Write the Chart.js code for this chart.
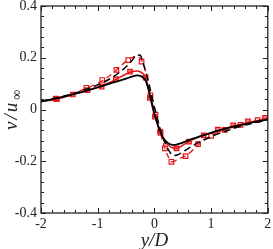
<!DOCTYPE html>
<html>
<head>
<meta charset="utf-8">
<script src="https://cdn.jsdelivr.net/npm/chart.js@4.4.1/dist/chart.umd.min.js"></script>
<style>
  html, body { margin: 0; padding: 0; background: #fff; }
  #chart { display: block; }
</style>
</head>
<body>
<canvas id="chart" width="273" height="249"></canvas>
<script>
// y/D stations shared by the four profiles
const yD = [-2, -1.75, -1.5, -1.25, -1, -0.75, -0.5, -0.4, -0.3, -0.25, -0.2, -0.15, -0.1, -0.05, 0,
  0.05, 0.1, 0.15, 0.2, 0.25, 0.3, 0.35, 0.4, 0.5, 0.6, 0.8, 1, 1.25, 1.5, 1.75, 2];

const blackSolid = [0.030, 0.042, 0.055, 0.069, 0.085, 0.103, 0.119, 0.127, 0.132, 0.130, 0.124, 0.110, 0.075, 0.030, -0.015,
  -0.053, -0.084, -0.107, -0.122, -0.131, -0.136, -0.137, -0.135, -0.128, -0.119, -0.104, -0.090, -0.074, -0.061, -0.049, -0.038];
const blackDashed = [0.032, 0.044, 0.057, 0.074, 0.095, 0.123, 0.165, 0.188, 0.211, 0.210, 0.180, 0.145, 0.103, 0.056, 0.010,
  -0.032, -0.075, -0.108, -0.135, -0.157, -0.172, -0.178, -0.176, -0.164, -0.150, -0.125, -0.105, -0.084, -0.066, -0.052, -0.040];
const redSolid = [0.031, 0.039, 0.054, 0.070, 0.087, 0.108, 0.137, 0.146, 0.149, 0.146, 0.138, 0.122, 0.072, 0.022, -0.020,
  -0.055, -0.085, -0.110, -0.128, -0.139, -0.146, -0.149, -0.149, -0.138, -0.125, -0.105, -0.090, -0.073, -0.058, -0.046, -0.034];
const redDashed = [0.032, 0.042, 0.057, 0.078, 0.101, 0.137, 0.186, 0.200, 0.206, 0.196, 0.178, 0.140, 0.087, 0.035, -0.013,
  -0.050, -0.088, -0.125, -0.160, -0.185, -0.202, -0.200, -0.194, -0.184, -0.172, -0.131, -0.102, -0.079, -0.060, -0.046, -0.034];

// symbols (filled squares on red solid, open squares on red dashed)
const filledX = [-1.72, -1.44, -1.18, -0.93, -0.68, -0.43, -0.155, -0.08, 0.01, 0.10, 0.39, 0.61, 0.87, 1.12, 1.39, 1.65, 1.95];
const filledY = [0.040, 0.058, 0.075, 0.088, 0.117, 0.146, 0.123, 0.045, -0.028, -0.085, -0.150, -0.124, -0.100, -0.078, -0.061, -0.046, -0.032];
const openX = [-1.74, -1.2, -0.92, -0.67, -0.46, -0.226, -0.07, 0.02, 0.11, 0.185, 0.30, 0.55, 0.77, 1.0, 1.24, 1.52, 1.82];
const openY = [0.042, 0.084, 0.114, 0.153, 0.191, 0.185, 0.055, -0.020, -0.090, -0.150, -0.202, -0.180, -0.134, -0.102, -0.079, -0.059, -0.041];

const xTicks = [-2, -1, 0, 1, 2];
const yTicks = [-0.4, -0.2, 0, 0.2, 0.4];

const RED = "rgb(232,20,24)";
const pts = (xs, ys) => xs.map((x, i) => ({ x: x, y: ys[i] }));

// tecplot style frame with inward ticks, plus axis titles
const framePlugin = {
  id: "frame",
  afterDatasetsDraw(chart) {
    const { ctx, chartArea: a, scales } = chart;
    const sx = scales.x, sy = scales.y;
    ctx.save();
    ctx.strokeStyle = "#222";
    ctx.lineWidth = 1.3;
    ctx.strokeRect(a.left, a.top, a.right - a.left, a.bottom - a.top);
    ctx.lineWidth = 1;
    ctx.beginPath();
    for (let v = -2; v <= 2.0001; v += 0.2) {
      const px = Math.round(sx.getPixelForValue(v)) + 0.5;
      const major = Math.abs(v - Math.round(v)) < 1e-6;
      const len = major ? 5 : 3;
      ctx.moveTo(px, a.bottom); ctx.lineTo(px, a.bottom - len);
      ctx.moveTo(px, a.top); ctx.lineTo(px, a.top + len);
    }
    for (let v = -0.4; v <= 0.4001; v += 0.04) {
      const py = Math.round(sy.getPixelForValue(v)) + 0.5;
      const major = Math.abs(v / 0.2 - Math.round(v / 0.2)) < 1e-6;
      const len = major ? 5 : 3;
      ctx.moveTo(a.left, py); ctx.lineTo(a.left + len, py);
      ctx.moveTo(a.right, py); ctx.lineTo(a.right - len, py);
    }
    ctx.stroke();

    ctx.fillStyle = "#222";
    ctx.textBaseline = "alphabetic";
    // x title
    ctx.font = "italic 19px 'Liberation Serif'";
    ctx.textAlign = "center";
    ctx.fillText("y/D", (a.left + a.right) / 2, 246);
    // y title, rotated, with subscript infinity
    ctx.translate(17, 130);
    ctx.rotate(-Math.PI / 2);
    ctx.textAlign = "left";
    ctx.letterSpacing = "2px";
    ctx.fillText("v/u", 0, 0);
    const w = ctx.measureText("v/u").width;
    ctx.font = "14px 'Liberation Serif'";
    ctx.fillText("\u221E", w + 1, 4);
    ctx.restore();
  }
};

new Chart(document.getElementById("chart"), {
  type: "line",
  data: {
    datasets: [
      { data: pts(yD, blackSolid), borderColor: "#000", borderWidth: 1.8, pointRadius: 0, cubicInterpolationMode: "monotone" },
      { data: pts(yD, blackDashed), borderColor: "#000", borderWidth: 1.5, borderDash: [7, 4], pointRadius: 0, cubicInterpolationMode: "monotone" },
      { data: pts(yD, redSolid), borderColor: RED, borderWidth: 1.5, pointRadius: 0, cubicInterpolationMode: "monotone" },
      { data: pts(yD, redDashed), borderColor: RED, borderWidth: 1.3, borderDash: [6, 4], pointRadius: 0, cubicInterpolationMode: "monotone" },
      { data: pts(filledX, filledY), showLine: false, pointStyle: "rect", pointRadius: 3.2, borderWidth: 1.2,
        borderColor: RED, pointBackgroundColor: "rgba(232,20,24,0.55)" },
      { data: pts(openX, openY), showLine: false, pointStyle: "rect", pointRadius: 3.2, borderWidth: 1.2,
        borderColor: RED, pointBackgroundColor: "#fff" },
    ],
  },
  options: {
    responsive: false,
    animation: false,
    events: [],
    layout: { padding: { top: 6, right: 5, left: 0, bottom: 0 } },
    plugins: { legend: { display: false }, tooltip: { enabled: false } },
    scales: {
      x: {
        type: "linear",
        min: -2,
        max: 2,
        afterFit(scale) {
          scale.height = 36;
          scale.paddingLeft = 0;
          scale.paddingRight = 0;
        },
        afterBuildTicks(scale) { scale.ticks = xTicks.map(v => ({ value: v })); },
        grid: { display: false, drawTicks: false, tickLength: 0 },
        border: { display: false },
        ticks: {
          padding: 3,
          color: "#222",
          font: { family: "'Liberation Serif'", size: 14 },
          maxRotation: 0,
          autoSkip: false,
          callback: v => String(v),
        },
      },
      y: {
        min: -0.4,
        max: 0.4,
        afterFit(scale) {
          scale.width = 41;
          scale.paddingTop = 0;
          scale.paddingBottom = 0;
        },
        afterBuildTicks(scale) { scale.ticks = yTicks.map(v => ({ value: v })); },
        grid: { display: false, drawTicks: false, tickLength: 0 },
        border: { display: false },
        ticks: {
          padding: 4,
          color: "#222",
          font: { family: "'Liberation Serif'", size: 14 },
          autoSkip: false,
          callback: v => (Math.abs(v) < 1e-9 ? "0" : v.toFixed(1)),
        },
      },
    },
  },
  plugins: [framePlugin],
});
</script>
</body>
</html>
